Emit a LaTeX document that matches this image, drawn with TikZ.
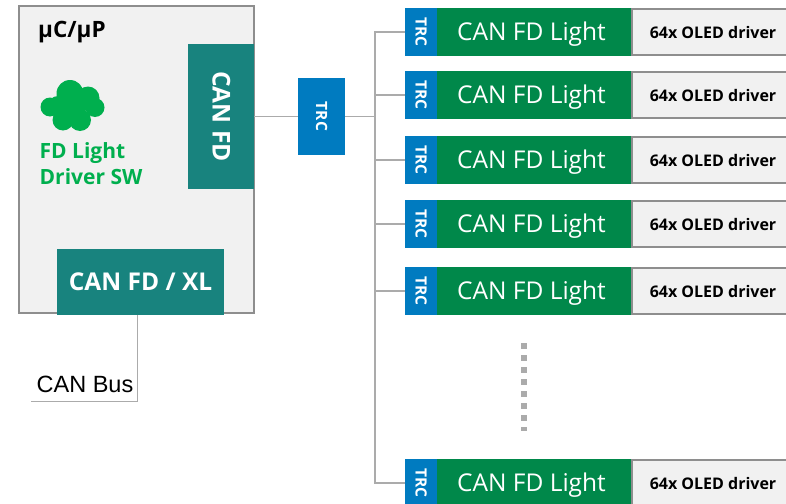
\documentclass[tikz,border=0pt]{standalone}
\usepackage{fontspec}
\setmainfont{Open Sans}
\newfontfamily\busfont{Liberation Sans}
\definecolor{boxgrey}{HTML}{F1F1F1}
\definecolor{linegrey}{HTML}{8E8E8E}
\definecolor{wiregrey}{HTML}{ABABAB}
\definecolor{canteal}{HTML}{18837E}
\definecolor{trcblue}{HTML}{007BC0}
\definecolor{lightgreen}{HTML}{00884A}
\definecolor{swgreen}{HTML}{00AF4E}

\begin{document}
\begin{tikzpicture}[
    x=1pt, y=-1pt,
    chip/.style={rectangle, draw=linegrey, fill=boxgrey, line width=2pt, inner sep=0pt, outer sep=0pt},
    canbox/.style={rectangle, fill=canteal, text=white, inner sep=0pt, outer sep=0pt, text height=17pt, text depth=0pt, font=\fontsize{24.5}{28}\selectfont\bfseries},
    trc/.style={rectangle, fill=trcblue, text=white, rotate=-90, inner sep=0pt, outer sep=0pt, minimum width=48pt, minimum height=32pt, text height=11pt, text depth=0pt, font=\fontsize{15.5}{18}\selectfont\bfseries},
    light/.style={rectangle, fill=lightgreen, text=white, inner sep=0pt, outer sep=0pt, minimum width=195pt, minimum height=48pt, text height=17pt, text depth=0pt, font=\fontsize{24.5}{28}\selectfont},
    oled/.style={chip, minimum width=160pt, minimum height=46pt, text height=12pt, text depth=0pt, font=\fontsize{16}{18}\selectfont\bfseries},
    wire/.style={color=wiregrey, line width=1.4pt}
]
\clip (0,0) rectangle (786,503);

% controller
\node[chip, minimum width=235pt, minimum height=306pt] (mcu) at (136,159.5) {};
\node[anchor=west, inner sep=0pt, font=\fontsize{22.5}{26}\selectfont\bfseries] (mcutitle) at (38,32) {µC/µP};
\node[canbox, rotate=-90, minimum width=145pt, minimum height=66pt] (canfd) at (221,116.5) {CAN FD};
\node[canbox, minimum width=167pt, minimum height=66pt] (canxl) at (140.5,282) {CAN FD / XL};

% cloud
\fill[swgreen] (50,107) circle (9.5);
\fill[swgreen] (58,106) circle (10);
\fill[swgreen] (70,93.5) circle (13.5);
\fill[swgreen] (88,98) circle (11.5);
\fill[swgreen] (95,107.5) circle (9.5);
\fill[swgreen] (63,120) circle (10.5);
\fill[swgreen] (80,120) circle (11);
\fill[swgreen] (72,108) circle (14);

\node[anchor=west, align=left, inner sep=0pt, text=swgreen, font=\fontsize{21}{26}\selectfont\bfseries] (swlabel) at (39.5,163.5) {FD Light\\Driver SW};

% main transceiver
\node[trc, minimum width=77pt, minimum height=47pt] (trcmain) at (321.5,116.5) {TRC};

% rows
\node[trc] (trc1) at (421,32) {TRC};
\node[light, anchor=west] (light1) at (437,32) {\hspace*{-6pt}CAN FD Light};
\node[oled] (oled1) at (712,32) {\hspace*{2pt}64x OLED driver};

\node[trc] (trc2) at (421,95) {TRC};
\node[light, anchor=west] (light2) at (437,95) {\hspace*{-6pt}CAN FD Light};
\node[oled] (oled2) at (712,95) {\hspace*{2pt}64x OLED driver};

\node[trc] (trc3) at (421,160) {TRC};
\node[light, anchor=west] (light3) at (437,160) {\hspace*{-6pt}CAN FD Light};
\node[oled] (oled3) at (712,160) {\hspace*{2pt}64x OLED driver};

\node[trc] (trc4) at (421,224) {TRC};
\node[light, anchor=west] (light4) at (437,224) {\hspace*{-6pt}CAN FD Light};
\node[oled] (oled4) at (712,224) {\hspace*{2pt}64x OLED driver};

\node[trc] (trc5) at (421,291) {TRC};
\node[light, anchor=west] (light5) at (437,291) {\hspace*{-6pt}CAN FD Light};
\node[oled] (oled5) at (712,291) {\hspace*{2pt}64x OLED driver};

\node[trc] (trc6) at (421,483) {TRC};
\node[light, anchor=west] (light6) at (437,483) {\hspace*{-6pt}CAN FD Light};
\node[oled] (oled6) at (712,483) {\hspace*{2pt}64x OLED driver};

% wires
\coordinate (bustop) at (375,32);
\coordinate (busend) at (375,483);
\coordinate (buscorner) at (137.5,401.5);
\coordinate (busleft) at (31,401.5);
\coordinate (dotstop) at (523.5,343);
\coordinate (dotsend) at (523.5,430.5);

\draw[wire] (canfd) -- (trcmain);
\draw[wire] (trcmain) -- (trcmain -| bustop);
\draw[wire] (trc1) -- (bustop) -- (busend) -- (trc6);
\draw[wire] (trc2) -- (trc2 -| bustop);
\draw[wire] (trc3) -- (trc3 -| bustop);
\draw[wire] (trc4) -- (trc4 -| bustop);
\draw[wire] (trc5) -- (trc5 -| bustop);
\draw[wire] (canxl.south -| buscorner) -- (buscorner) -- (busleft);
\draw[color=wiregrey, line width=6pt, dash pattern=on 6pt off 6pt] (dotstop) -- (dotsend);

\node[anchor=east, inner sep=0pt, font=\fontsize{23.5}{26}\selectfont\busfont] (buslabel) at (133.5,384) {CAN Bus};
\end{tikzpicture}
\end{document}
